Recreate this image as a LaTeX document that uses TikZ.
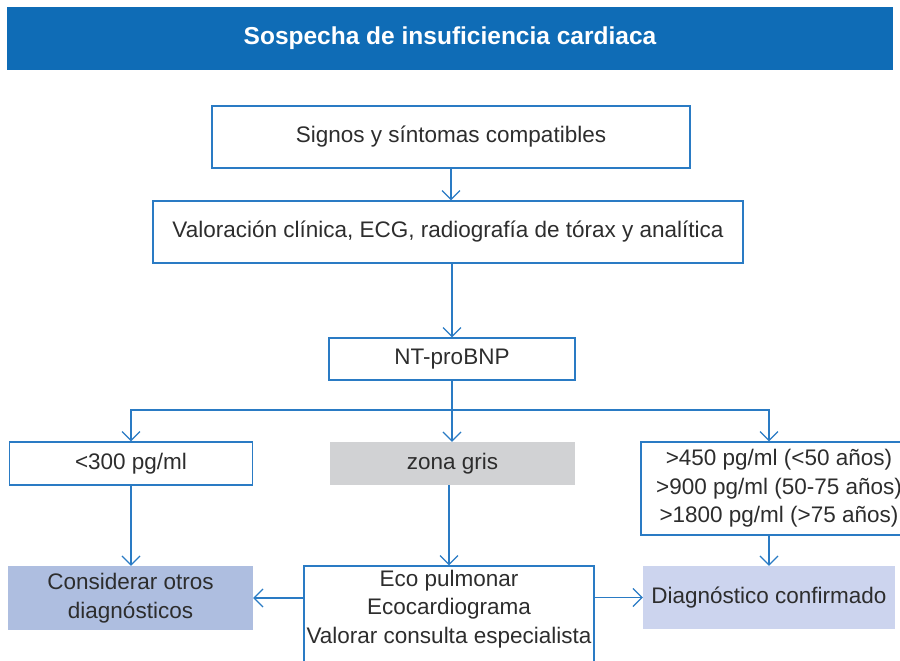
\documentclass[tikz,border=0pt]{standalone}
\usepackage{fontspec}
\setmainfont{Liberation Sans}
\usetikzlibrary{arrows.meta}
\definecolor{azul}{HTML}{0F6CB6}
\definecolor{linea}{HTML}{2A7BC4}
\definecolor{grisclaro}{HTML}{D1D2D4}
\definecolor{lila}{HTML}{AEBEE0}
\definecolor{lilaclaro}{HTML}{CCD4EE}
\definecolor{texto}{HTML}{2D2D2D}

\begin{document}
\begin{tikzpicture}[x=1pt,y=-1pt,
    caja/.style={draw=linea,line width=1.2pt,inner sep=0pt,text=texto,
      align=center,font=\fontsize{22.5}{28.5}\selectfont},
    relleno/.style={inner sep=0pt,text=texto,align=center,
      font=\fontsize{22.5}{28.5}\selectfont},
    flecha/.style={draw=linea,line width=1.2pt,
      -{Straight Barb[length=9pt,width=18pt]}}]
      \useasboundingbox (0,0) rectangle (900,661) ;
      \clip (0,0) rectangle (900,661) ;
      % cabecera
      \node[fill=azul,text=white,inner sep=0pt,minimum width=886,%
      minimum height=63,font=\bfseries\fontsize{24.5}{30}\selectfont] %
      (titulo) at (450,38.5) {Sospecha de insuficiencia cardiaca} ;
      % cajas
      \node[caja,minimum width=478,minimum height=62] %
      (signos) at (451,137) {Signos y síntomas compatibles} ;
      \node[caja,minimum width=590,minimum height=62] %
      (valor) at (448,232) {Valoración clínica, ECG, radiografía de tórax y analítica} ;
      \node[caja,minimum width=246,minimum height=42] %
      (nt) at (452,359) {NT-proBNP} ;
      \node[caja,minimum width=243,minimum height=43] %
      (bajo) at (131,463.5) {<300 pg/ml} ;
      \node[relleno,fill=grisclaro,minimum width=245,minimum height=43] %
      (zona) at (452.5,463.5) {zona gris} ;
      \node[caja,minimum width=276,minimum height=93] %
      (alto) at (779,488.5) {>450 pg/ml (<50 años)\\>900 pg/ml (50-75 años)\\>1800 pg/ml (>75 años)} ;
      \node[relleno,fill=lila,minimum width=245,minimum height=64] %
      (otros) at (130.5,598) {Considerar otros\\diagnósticos} ;
      \node[caja,minimum width=290,minimum height=134] %
      (eco) at (449,633) {} ;
      \node[relleno] (ecotxt) at (449,609) %
      {Eco pulmonar\\Ecocardiograma\\Valorar consulta especialista} ;
      \node[relleno,fill=lilaclaro,minimum width=252,minimum height=63] %
      (confirmado) at (769,597.5) {Diagnóstico confirmado} ;
      % flechas
      \coordinate (rama) at (451,410) ;
      \draw[flecha] (signos.south) -- (signos.south |- valor.north) ;
      \draw[flecha] (nt.north |- valor.south) -- (nt.north) ;
      \draw[flecha] (nt.south) -- (nt.south |- zona.north) ;
      \draw[flecha] (rama) -| (bajo.north) ;
      \draw[flecha] (rama) -| (confirmado.north |- alto.north) ;
      \draw[flecha] (bajo.south) -- (bajo.south |- otros.north) ;
      \draw[flecha] (zona.south -| ecotxt.north) -- (eco.north) ;
      \draw[flecha] (confirmado.north |- alto.south) -- (confirmado.north) ;
      \draw[flecha] (eco.west |- otros.east) -- (otros.east) ;
      \draw[flecha] (eco.east |- confirmado.west) -- (confirmado.west) ;
    \end{tikzpicture}
\end{document}
